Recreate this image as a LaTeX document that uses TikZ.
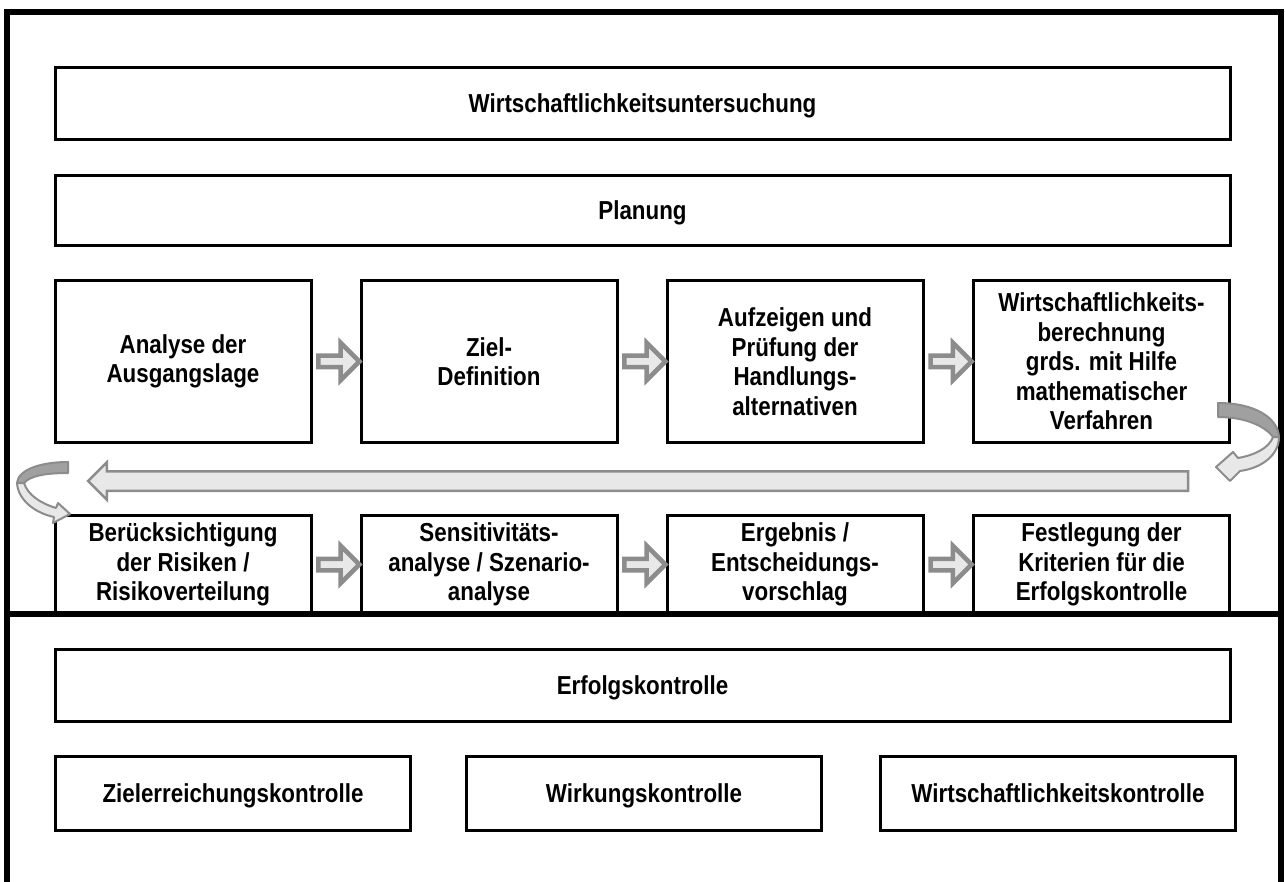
\documentclass[tikz,border=0pt]{standalone}
\usepackage{fontspec}
\setmainfont{Liberation Sans}[FakeStretch=0.86]
\usetikzlibrary{shapes.arrows}

\definecolor{arrowgray}{HTML}{8C8C8C}
\definecolor{arrowlight}{HTML}{E8E8E8}
\definecolor{arrowdark}{HTML}{A0A0A0}

\tikzset{
  box/.style={draw, line width=3pt, align=center, inner sep=0pt,
    font=\bfseries\fontsize{26}{29.5}\selectfont},
  oneline/.style={box, text height=18pt, text depth=0pt},
  wide/.style={oneline, minimum width=1175pt, minimum height=72pt},
  stage/.style={box, minimum width=256pt, minimum height=161pt},
  lowstage/.style={box, minimum width=256pt, minimum height=99pt},
  ctrl/.style={oneline, minimum width=355pt, minimum height=74pt},
  fatarrow/.style={single arrow, draw=arrowgray, fill=arrowlight, line width=4.5pt,
    inner sep=0pt, inner ysep=3.5pt, minimum height=41pt, single arrow head extend=13pt},
  backarrow/.style={single arrow, draw=arrowgray, fill=arrowlight, line width=2.5pt,
    inner sep=0pt, inner ysep=8.5pt, minimum height=1100pt, single arrow head extend=9pt,
    shape border rotate=180},
  curvedark/.style={fill=arrowdark, draw=arrowgray, line width=2pt, line join=round},
  curvelight/.style={fill=arrowlight, draw=arrowgray, line width=2pt, line join=round}
}

\begin{document}
\begin{tikzpicture}[x=1pt,y=-1pt]
    \useasboundingbox (0,0) rectangle (1285,882);
    \draw[line width=5.5pt](7,882)--(7,12)--(1281,12)--(1281,882);

    \node[wide](wu) at (642.5,103.5){Wirtschaftlichkeitsuntersuchung};
    \node[wide, minimum height=70pt](plan) at (642.5,211){Planung};

    % Planung, erste Reihe
    \node[stage](ana) at (183,361.5){Analyse der\\Ausgangslage};
    \node[stage](ziel) at (489,361.5){Ziel-\\Definition};
    \node[stage](alt) at (795,361.5){Aufzeigen und\\Prüfung der\\Handlungs-\\alternativen};
    \node[stage](wb) at (1101.5,361.5){Wirtschaftlichkeits-\\berechnung\\grds. mit Hilfe\\mathematischer\\Verfahren};

    % Planung, zweite Reihe
    \node[lowstage](ris) at (183,564.5){Berücksichtigung\\der Risiken /\\Risikoverteilung};
    \node[lowstage](sens) at (489,564.5){Sensitivitäts-\\analyse / Szenario-\\analyse};
    \node[lowstage](erg) at (795,564.5){Ergebnis /\\Entscheidungs-\\vorschlag};
    \node[lowstage](fest) at (1101.5,564.5){Festlegung der\\Kriterien für die\\Erfolgskontrolle};

    \foreach \a/\b in {ana/ziel, ziel/alt, alt/wb, ris/sens, sens/erg, erg/fest}
        \path(\a.east)--node[fatarrow]{}(\b.west);

    \coordinate(backR) at (1194,481);
    \coordinate(backL) at (92,481);
    \path(backR)--node[backarrow]{}(backL);

    % Bogen rechts
    \draw[curvedark](1218,403) .. controls (1255,403) and (1278,418) .. (1279,437)
        --(1273,437) .. controls (1265,426) and (1245,417) .. (1218,417)--cycle;
    \draw[curvelight](1279,437) .. controls (1279,455) and (1262,468) .. (1240,471)
        --(1230,481)--(1216,467)--(1233,452)--(1238,458)
        .. controls (1255,455) and (1269,448) .. (1273,437)--cycle;

    % Bogen links
    \draw[curvedark](68,462) .. controls (40,462) and (18,470) .. (17,483)
        --(24,483) .. controls (30,476) and (45,473) .. (68,473)--cycle;
    \draw[curvelight](17,483) .. controls (18,500) and (35,513) .. (54,517)
        --(53,523)--(70,514)--(58,503)--(56,508)
        .. controls (40,503) and (28,495) .. (24,483)--cycle;

    \draw[line width=6pt](7,614)--(1281,614);

    \node[wide](ek) at (642.5,685){Erfolgskontrolle};
    \node[ctrl](zk) at (233,793){Zielerreichungskontrolle};
    \node[ctrl](wk) at (644,793){Wirkungskontrolle};
    \node[ctrl](wik) at (1058,793){Wirtschaftlichkeitskontrolle};
\end{tikzpicture}
\end{document}
